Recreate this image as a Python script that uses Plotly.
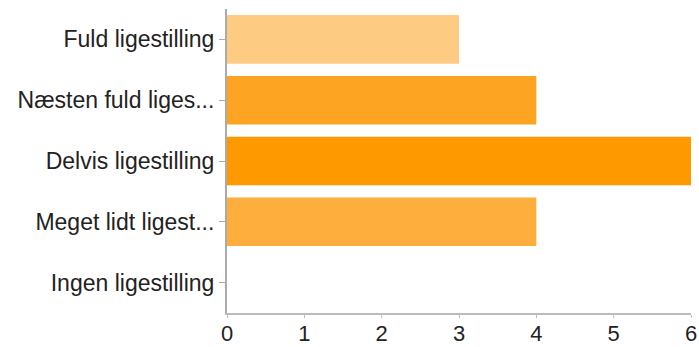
import plotly.graph_objects as go

# Survey answers and their counts
categories = [
    "Fuld ligestilling",
    "Næsten fuld liges...",
    "Delvis ligestilling",
    "Meget lidt ligest...",
    "Ingen ligestilling",
]
counts = [3, 4, 6, 4, 0]
bar_colors = ["#FECB82", "#FDA522", "#FE9900", "#FEAE3C", "#FECB82"]
x_ticks = [0, 1, 2, 3, 4, 5, 6]

fig = go.Figure(
    go.Bar(
        x=counts,
        y=categories,
        orientation="h",
        marker=dict(color=bar_colors, line=dict(width=0)),
        hoverinfo="x+y",
    )
)

fig.update_layout(
    width=699,
    height=347,
    margin=dict(l=227, r=8, t=9, b=34, autoexpand=False),
    paper_bgcolor="white",
    plot_bgcolor="white",
    bargap=0.2,
    showlegend=False,
    font=dict(family="Liberation Sans, Arial, sans-serif", size=23, color="#222222"),
)

fig.update_xaxes(
    range=[0, 6],
    tickvals=x_ticks,
    showgrid=False,
    zeroline=False,
    showline=True,
    linecolor="#BBBBBB",
    linewidth=1.5,
    ticks="outside",
    ticklen=3,
    tickcolor="#BBBBBB",
    tickfont=dict(size=22, color="#222222"),
    ticklabelstandoff=-3,
    automargin=False,
    fixedrange=True,
)

fig.update_yaxes(
    categoryorder="array",
    categoryarray=categories,
    autorange="reversed",
    showgrid=False,
    zeroline=False,
    showline=True,
    linecolor="#AAAAAA",
    linewidth=2,
    ticks="outside",
    ticklen=6,
    tickcolor="#AAAAAA",
    tickfont=dict(size=23, color="#222222"),
    automargin=False,
    fixedrange=True,
)

fig.write_html("out.html", config={"displayModeBar": False})
